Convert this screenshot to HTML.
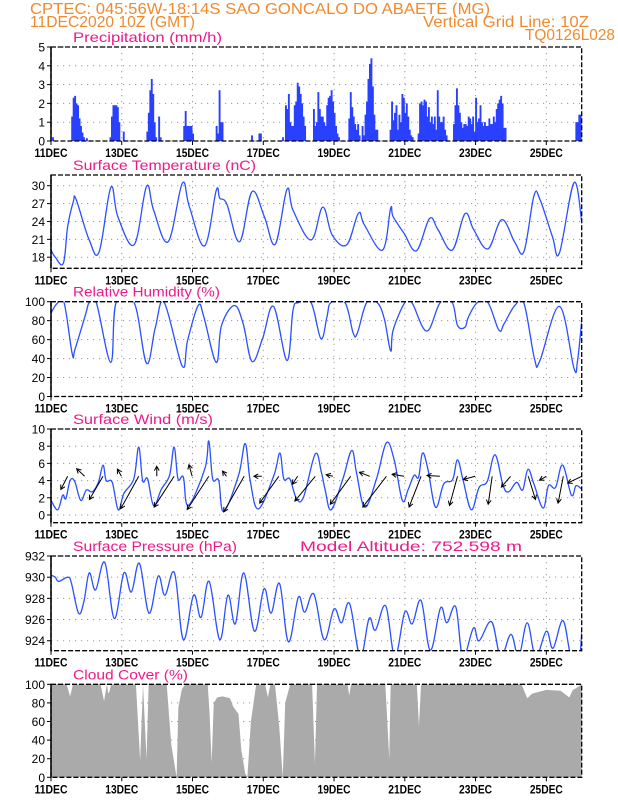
<!DOCTYPE html>
<html><head><meta charset="utf-8"><title>CPTEC Meteogram</title>
<style>
html,body{margin:0;padding:0;background:#fff;}
svg{display:block;}
text{font-family:"Liberation Sans",sans-serif;}
.hdr{fill:#f08a2e;font-size:15.5px;}
.ttl{fill:#ec1a8c;font-size:14px;}
.tick{fill:#000;font-size:12px;font-weight:bold;}
.ylab{fill:#000;font-size:12px;}
</style></head>
<body>
<svg id="chart" width="618" height="800" viewBox="0 0 618 800">
<text class="hdr" x="30" y="14" textLength="460" lengthAdjust="spacingAndGlyphs">CPTEC:   045:56W-18:14S   SAO GONCALO DO ABAETE (MG)</text>
<text class="hdr" x="30" y="27" textLength="165" lengthAdjust="spacingAndGlyphs">11DEC2020 10Z (GMT)</text>
<text class="hdr" x="423" y="27" textLength="166" lengthAdjust="spacingAndGlyphs">Vertical Grid Line: 10Z</text>
<text class="hdr" x="525" y="40" textLength="90" lengthAdjust="spacingAndGlyphs">TQ0126L028</text>
<g id="panels"></g>
</svg>
<script>
// ---------- data ----------
const dayLabels = ["11DEC","13DEC","15DEC","17DEC","19DEC","21DEC","23DEC","25DEC"];
const precipHours = [2,15,16,17,18,19,20,21,22,23,25,41,42,43,44,45,46,47,50,66,67,68,69,70,71,72,74,75,91,92,93,94,95,96,97,113,114,115,116,117,137,142,143,158,160,161,162,163,164,165,166,167,168,169,170,171,172,173,179,180,181,182,183,184,185,186,187,188,189,190,191,192,193,194,195,196,203,204,205,206,207,208,209,210,212,213,214,215,216,217,218,219,220,221,222,231,232,233,234,235,236,237,238,239,240,241,242,243,244,245,246,250,251,252,253,254,255,256,257,258,259,260,261,262,263,264,265,266,267,268,269,274,275,276,277,278,279,280,281,282,283,284,285,286,287,288,289,290,291,292,293,294,295,296,297,298,299,300,301,302,303,304,305,306,307,308,309,357,358,359,360];
const precipValues = [0.2,1.3,2.3,2.4,2.0,1.9,1.2,0.8,0.45,0.2,0.15,0.2,1.3,1.9,1.9,1.9,1.8,1.0,0.5,0.5,1.5,2.7,3.3,2.5,1.0,0.2,1.3,0.2,0.8,1.6,0.8,0.8,0.8,0.8,0.4,0.8,0.4,2.7,1.0,1.0,0.3,0.4,0.4,0.2,1.9,1.7,2.5,1.0,0.8,0.8,1.9,2.1,3.1,2.9,2.5,2.0,1.3,0.8,1.7,0.8,1.0,2.6,1.7,1.3,1.3,1.0,0.8,1.9,2.3,2.4,2.7,2.1,1.5,0.8,0.4,0.2,1.2,2.6,1.8,1.3,0.9,0.6,0.9,0.3,0.8,0.3,1.4,2.1,3.3,4.1,4.4,2.9,1.4,0.6,0.6,0.6,2.1,1.1,1.5,1.9,0.6,1.4,1.0,2.5,2.3,1.5,2.0,1.3,0.6,0.3,0.2,0.4,2.0,2.1,1.9,2.2,2.1,1.3,1.8,1.0,1.3,0.9,1.3,0.6,2.7,1.3,1.0,1.0,1.3,0.6,0.3,0.9,1.9,2.8,1.9,1.5,1.0,0.7,0.9,0.9,0.8,1.3,1.2,0.9,1.3,0.5,2.3,1.0,1.2,1.9,1.0,0.8,1.0,0.8,0.8,1.2,0.9,0.9,1.3,1.0,1.7,2.0,2.2,2.4,2.0,0.7,0.7,1.0,1.0,1.4,1.4];
const tempDays = [0,0.12,0.35,0.47,0.63,0.71,1.08,1.36,1.69,1.89,2.35,2.70,2.90,3.31,3.71,3.91,4.34,4.67,4.77,4.97,5.33,5.68,6.03,6.34,6.67,6.84,7.35,7.68,7.95,8.36,8.69,8.86,9.37,9.60,9.67,9.98,10.33,10.70,10.94,11.34,11.70,11.95,12.35,12.74,13.11,13.37,13.65,13.82,14.17,14.37,14.78,15];
const tempValues = [19.2,18.0,17.0,23.1,27.3,27.7,20.9,18.9,29.7,24.8,20.1,29.9,25.9,20.6,30.4,26.5,19.9,29.2,27.9,26.9,20.6,29.0,24.8,20.2,29.4,25.9,20.9,26.4,21.7,20.1,25.4,23.4,19.2,26.2,24.8,22.0,19.1,24.5,22.6,19.2,25.3,22.6,19.4,24.3,20.5,19.0,28.3,27.7,21.5,18.7,30.5,24.0];
const rhDays = [0,0.17,0.37,0.60,0.68,0.98,1.08,1.28,1.69,1.84,2.35,2.70,2.95,3.20,3.71,3.86,4.16,4.32,4.67,4.82,5.18,5.43,5.68,5.98,6.29,6.67,6.84,6.99,7.35,7.63,7.80,7.91,8.31,8.54,8.66,8.92,9.22,9.42,9.60,9.67,10.0,10.2,10.62,11.0,11.34,11.49,11.70,11.80,12.05,12.35,12.66,12.81,13.11,13.37,13.67,13.82,14.37,14.78,14.88,15];
const rhValues = [88,98,99,45,50,87,99,99,36,99,99,35,73,99,32,59,96,84,36,75,96,77,37,61,95,38,91,99,99,61,84,99,99,67,67,99,99,82,48,70,99,99,69,99,99,75,73,84,99,99,70,77,96,98,39,38,95,30,37,80];
const windDays = [0,0.19,0.33,0.42,0.54,0.67,0.84,1.0,1.17,1.34,1.47,1.56,1.73,1.90,2.06,2.34,2.48,2.59,2.73,2.90,3.12,3.35,3.48,3.59,3.74,3.88,4.35,4.46,4.57,4.74,4.88,5.30,5.49,5.63,5.86,6.30,6.47,6.58,6.75,6.94,7.14,7.47,7.64,7.75,7.92,8.25,8.50,8.64,8.87,9.20,9.48,9.70,9.93,10.09,10.26,10.39,10.50,10.65,10.87,11.10,11.35,11.49,11.65,11.88,12.10,12.33,12.55,12.78,12.94,13.16,13.33,13.48,13.65,13.91,14.06,14.26,14.46,14.71,14.84,15];
const windValues = [1.7,0.6,2.3,1.9,4.0,3.9,1.7,2.9,2.7,3.8,5.8,4.0,3.8,0.6,2.5,4.2,7.9,4.0,4.2,1.1,3.0,4.6,7.9,4.2,4.4,1.1,5.4,8.6,4.2,4.0,0.4,4.6,8.3,4.0,0.7,4.6,7.2,4.2,4.2,1.9,2.1,7.1,5.0,2.9,0.6,4.2,7.5,4.8,0.9,4.2,8.4,6.4,1.7,2.9,4.6,4.4,7.2,5.4,0.9,3.6,4.1,6.4,4.0,0.6,3.2,3.9,7.0,3.4,2.7,3.8,2.9,5.3,3.6,0.8,3.4,3.2,5.8,2.3,3.4,3.0];
const arrowDays = [0.47,0.95,1.47,1.99,2.48,2.99,3.48,3.99,4.46,4.96,5.46,5.96,6.44,6.97,7.47,7.97,8.47,9.01,9.48,9.98,10.46,10.99,11.49,11.99,12.47,12.99,13.49,14.00,14.48,15.0];
const arrowU = [-1.7,-2.0,-3.4,-1.0,-4.5,0,-5.0,-0.8,-5.4,-1.0,-5.1,-2.0,-4.8,-1.3,-5.1,-1.7,-5.1,-2.6,-5.9,-3.0,-3.0,-3.2,-2.0,-3.0,-1.0,-2.3,1.8,-1.7,-1.3,-3.5];
const arrowV = [-3.3,1.9,-5.8,1.8,-8.1,2.5,-7.7,2.9,-8.3,1.3,-8.9,0,-6.7,-2.0,-6.2,0.4,-7.0,1.0,-7.7,0.5,-7.7,0.2,-7.3,-0.8,-7.0,-2.7,-5.8,-1.0,-6.7,-1.7];
const presDays = [0,0.12,0.22,0.48,0.58,0.78,0.93,1.08,1.26,1.52,1.79,2.06,2.27,2.50,2.77,3.03,3.22,3.49,3.74,4.03,4.24,4.47,4.77,5.0,5.21,5.45,5.75,6.02,6.22,6.46,6.71,6.99,7.17,7.43,7.72,8.0,8.21,8.44,8.74,8.99,9.17,9.46,9.72,10.0,10.21,10.46,10.72,11.01,11.19,11.44,11.64,11.94,12.10,12.45,12.71,13.0,13.22,13.46,13.70,14.0,14.19,14.47,14.70,14.93,15];
const presValues = [930.2,930.0,929.6,930.0,929.4,926.6,927.7,930.4,928.8,931.4,926.1,930.4,928.6,931.3,926.6,930.1,928.3,930.4,924.1,928.3,926.2,929.6,924.1,928.3,925.6,930.4,924.9,928.9,926.6,929.4,923.9,928.1,926.7,928.4,924.1,927.0,925.7,927.5,922.5,926.1,925.0,927.3,922.5,926.7,925.6,927.8,923.1,927.1,925.7,927.2,922.5,925.2,924.0,925.8,922.5,924.6,922.5,925.7,922.5,924.9,923.3,925.9,922.5,922.5,924.8];
const cloudDays = [0,0.44,0.54,0.62,1.40,1.50,1.58,1.62,1.65,1.70,2.40,2.52,2.60,2.70,2.76,3.20,3.27,3.40,3.55,3.60,3.70,3.80,4.43,4.48,4.54,4.60,4.70,4.85,5.06,5.15,5.30,5.38,5.49,5.55,5.65,5.80,6.05,6.13,6.20,6.33,6.45,6.55,6.62,6.76,7.38,7.46,7.52,8.38,8.43,8.48,9.45,9.56,9.60,10.34,10.40,10.46,13.30,13.46,13.60,14.00,14.40,14.65,14.75,14.85,15];
const cloudValues = [100,100,87,100,100,82,100,90,92,100,100,18,100,20,100,100,100,35,0,75,95,100,100,70,16,80,86,87,85,76,68,29,4,0,60,100,100,86,100,100,55,0,80,100,100,15,100,100,88,100,100,20,100,100,55,100,100,85,90,94,93,86,94,96,100];

// ---------- layout ----------
const NS = "http://www.w3.org/2000/svg";
const X0 = 51, X1 = 581.7, DAYS = 15;
const xs = d => X0 + (X1 - X0) * d / DAYS;
const root = document.getElementById('panels');
function el(tag, attrs, parent){
  const e = document.createElementNS(NS, tag);
  for (const k in attrs) e.setAttribute(k, attrs[k]);
  (parent || root).appendChild(e);
  return e;
}
function makePanel(key, title, top, bottom, vmin, vmax, ticks, titleLen){
  const g = el('g', {});
  
  
  const ys = v => bottom - (v - vmin) / (vmax - vmin) * (bottom - top);
  for (const t of ticks){
    const y = ys(t);
    const gl = el('line', {x1:X0, x2:X1, y1:y, y2:y, stroke:'#999', 'stroke-width':1, 'stroke-dasharray':'1.2,4.8'}, g);
    
    
    const tm = el('line', {x1:X0-4, x2:X0, y1:y, y2:y, stroke:'#000', 'stroke-width':1}, g);
    
    
    const tl = el('text', {x:X0-6, y:y+4.5, 'text-anchor':'end', class:'ylab'}, g);
    tl.textContent = String(t);
    
    
  }
  for (let d = 2; d < DAYS; d += 2){
    const vl = el('line', {x1:xs(d), x2:xs(d), y1:top, y2:bottom, stroke:'#999', 'stroke-width':1, 'stroke-dasharray':'1.2,4.8'}, g);
    
    
  }
  dayLabels.forEach((lab, i) => {
    const x = xs(i * 2);
    const tk = el('line', {x1:x, x2:x, y1:bottom, y2:bottom+4, stroke:'#000', 'stroke-width':1}, g);
    
    
    const t = el('text', {x:x, y:bottom+16, 'text-anchor':'middle', class:'tick', textLength:33, lengthAdjust:'spacingAndGlyphs'}, g);
    t.textContent = lab;
    
    
  });
  const tt = el('text', {x:73, y:top-5, class:'ttl', textLength:titleLen, lengthAdjust:'spacingAndGlyphs'}, g);
  tt.textContent = title;
  
  
  const cp = el('clipPath', {id:'clip-' + key}, g);
  el('rect', {x:X0, y:top, width:X1-X0, height:bottom-top}, cp);
  const data = el('g', {'clip-path':'url(#clip-' + key + ')'}, g);
  
  
  return {g, data, ys, top, bottom};
}
function frame(p, key){
  const f = el('rect', {x:X0, y:p.top, width:X1-X0, height:p.bottom-p.top, fill:'none', stroke:'#000', 'stroke-width':1.3, 'stroke-dasharray':'5,2'}, p.g);
  
  
  const l = el('line', {x1:X0, x2:X0, y1:p.top, y2:p.bottom, stroke:'#000', 'stroke-width':1.5}, p.g);
  
  
}
function linePath(p, days, vals, key){
  const pts = days.map((t, i) => [xs(t), p.ys(vals[i])]);
  let d = 'M' + pts[0][0].toFixed(2) + ',' + pts[0][1].toFixed(2);
  const k = 0.18;
  for (let i = 0; i < pts.length - 1; i++){
    const p0 = pts[Math.max(0, i-1)], p1 = pts[i], p2 = pts[i+1], p3 = pts[Math.min(pts.length-1, i+2)];
    const c1 = [p1[0] + (p2[0]-p0[0])*k, p1[1] + (p2[1]-p0[1])*k];
    const c2 = [p2[0] - (p3[0]-p1[0])*k, p2[1] - (p3[1]-p1[1])*k];
    d += 'C' + c1[0].toFixed(2) + ',' + c1[1].toFixed(2) + ' ' + c2[0].toFixed(2) + ',' + c2[1].toFixed(2) + ' ' + p2[0].toFixed(2) + ',' + p2[1].toFixed(2);
  }
  const path = el('path', {d, fill:'none', stroke:'#2a50ff', 'stroke-width':1.3, 'stroke-linejoin':'round'}, p.data);
  
  
}

// Precipitation
const pp = makePanel('precipitation', 'Precipitation (mm/h)', 47, 141, 0, 5, [0,1,2,3,4,5], 149);
precipHours.forEach((h, i) => {
  const x = xs(h / 24);
  const y = pp.ys(precipValues[i]);
  const r = el('rect', {x:x-1.9, y:y, width:1.9, height:pp.bottom-y, fill:'#2a40ff'}, pp.data);
  
  
});
frame(pp, 'precipitation');

// Temperature
const tp = makePanel('temperature', 'Surface Temperature (nC)', 175, 268.3, 16.14, 31.8, [18,21,24,27,30], 183);
linePath(tp, tempDays, tempValues, 'temperature');
frame(tp, 'temperature');

// Humidity
const hp = makePanel('humidity', 'Relative Humidity (%)', 301.7, 396.5, 0, 100, [0,20,40,60,80,100], 147);
linePath(hp, rhDays, rhValues, 'humidity');
frame(hp, 'humidity');

// Wind
const wp = makePanel('wind', 'Surface Wind (m/s)', 429, 522.7, -0.9, 10, [0,2,4,6,8,10], 140);
linePath(wp, windDays, windValues, 'wind');
const ANCHOR = 4.5, ASCALE = 4;
arrowDays.forEach((t, i) => {
  const x0 = xs(t), y0 = wp.ys(ANCHOR);
  const x1 = x0 + arrowU[i] * ASCALE, y1 = y0 - arrowV[i] * ASCALE;
  const ang = Math.atan2(y1 - y0, x1 - x0);
  const h = 5, a = 0.5;
  const d = 'M' + x0 + ',' + y0 + 'L' + x1 + ',' + y1 +
    'M' + (x1 - h*Math.cos(ang - a)) + ',' + (y1 - h*Math.sin(ang - a)) + 'L' + x1 + ',' + y1 +
    'L' + (x1 - h*Math.cos(ang + a)) + ',' + (y1 - h*Math.sin(ang + a));
  const ar = el('path', {d, fill:'none', stroke:'#000', 'stroke-width':1}, wp.g);
  
  
});
frame(wp, 'wind');

// Pressure
const prp = makePanel('pressure', 'Surface Pressure (hPa)', 556, 650.7, 923.06, 932, [924,926,928,930,932], 164);
const alt = el('text', {x:300, y:551, class:'ttl', textLength:222, lengthAdjust:'spacingAndGlyphs'}, prp.g);
alt.textContent = 'Model Altitude: 752.598 m';


linePath(prp, presDays, presValues, 'pressure');
frame(prp, 'pressure');

// Cloud cover
const cp = makePanel('cloud', 'Cloud Cover (%)', 684.3, 777.3, 0, 100, [0,20,40,60,80,100], 115);
{
  let d = 'M' + xs(0) + ',' + cp.ys(0);
  cloudDays.forEach((t, i) => { d += 'L' + xs(t).toFixed(2) + ',' + cp.ys(cloudValues[i]).toFixed(2); });
  d += 'L' + xs(DAYS) + ',' + cp.ys(0) + 'Z';
  const area = el('path', {d, fill:'#aaaaaa', stroke:'none'}, cp.data);
  
  
}
frame(cp, 'cloud');
</script>
</body></html>
